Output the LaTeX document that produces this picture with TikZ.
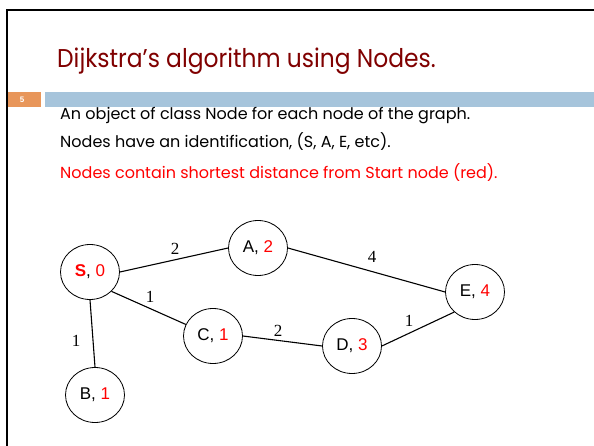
\documentclass[tikz,border=0pt]{standalone}
\usepackage{fontspec}
\usetikzlibrary{shapes.geometric}
\setmainfont{Poppins}
\newfontfamily\arialf{Liberation Sans}
\newfontfamily\timesf{Liberation Serif}
\definecolor{titlered}{RGB}{128,0,0}
\definecolor{barorange}{RGB}{232,150,90}
\definecolor{barblue}{RGB}{166,196,219}
\definecolor{pured}{RGB}{255,0,0}
\tikzset{
  gnode/.style={draw, ellipse, line width=0.8pt, minimum width=59pt, minimum height=55pt, inner sep=0pt, font=\arialf\fontsize{17}{20}\selectfont},
  edge/.style={line width=1.1pt},
  elabel/.style={font=\timesf\fontsize{17}{20}\selectfont, inner sep=0pt},
  bodytext/.style={anchor=base west, inner sep=0pt, font=\fontsize{16}{20}\selectfont},
}
\begin{document}
\begin{tikzpicture}[x=1pt,y=-1pt]
\useasboundingbox (0,0) rectangle (594,446);
\fill[white] (0,0) rectangle (594,446);
\draw[line width=2pt] (7,446) -- (7,10) -- (594,10);
\fill[barorange] (8,92) rectangle (41,107);
\fill[barblue] (45,92) rectangle (594,107);
\node[text=white, font=\arialf\bfseries\fontsize{8}{9}\selectfont] (num) at (22,99.5) {5};
\node[anchor=base west, inner sep=0pt, text=titlered, font=\fontsize{23.4}{28}\selectfont] (title) at (57,68) {\scalebox{1}[1.1]{Dijkstra’s algorithm using Nodes.}};
\node[bodytext] (l1) at (60,120) {An object of class Node for each node of the graph.};
\node[bodytext] (l2) at (60,148) {Nodes have an identification, (S, A, E, etc).};
\node[bodytext, text=pured] (l3) at (60,179) {Nodes contain shortest distance from Start node (red).};

\node[gnode] (S) at (90,272) {\textcolor{pured}{\bfseries S}, \textcolor{pured}{0}};
\node[gnode] (A) at (258,248) {A, \textcolor{pured}{2}};
\node[gnode] (C) at (213,336) {C, \textcolor{pured}{1}};
\node[gnode] (B) at (95,395) {B, \textcolor{pured}{1}};
\node[gnode] (D) at (352,346) {D, \textcolor{pured}{3}};
\node[gnode] (E) at (475,292) {E, \textcolor{pured}{4}};

\draw[edge] (S.east) -- (A.west);
\draw[edge] (S.-42) -- (C.157);
\draw[edge] (S.south) -- (B.north);
\draw[edge] (C.east) -- (D.west);
\draw[edge] (A.east) -- (E.west);
\draw[edge] (D.east) -- (E.224);

\node[elabel] (lSA) at (175,249) {2};
\node[elabel] (lSC) at (150,297) {1};
\node[elabel] (lSB) at (76,341) {1};
\node[elabel] (lCD) at (278,331) {2};
\node[elabel] (lAE) at (372,257) {4};
\node[elabel] (lDE) at (409,321) {1};
\end{tikzpicture}
\end{document}
